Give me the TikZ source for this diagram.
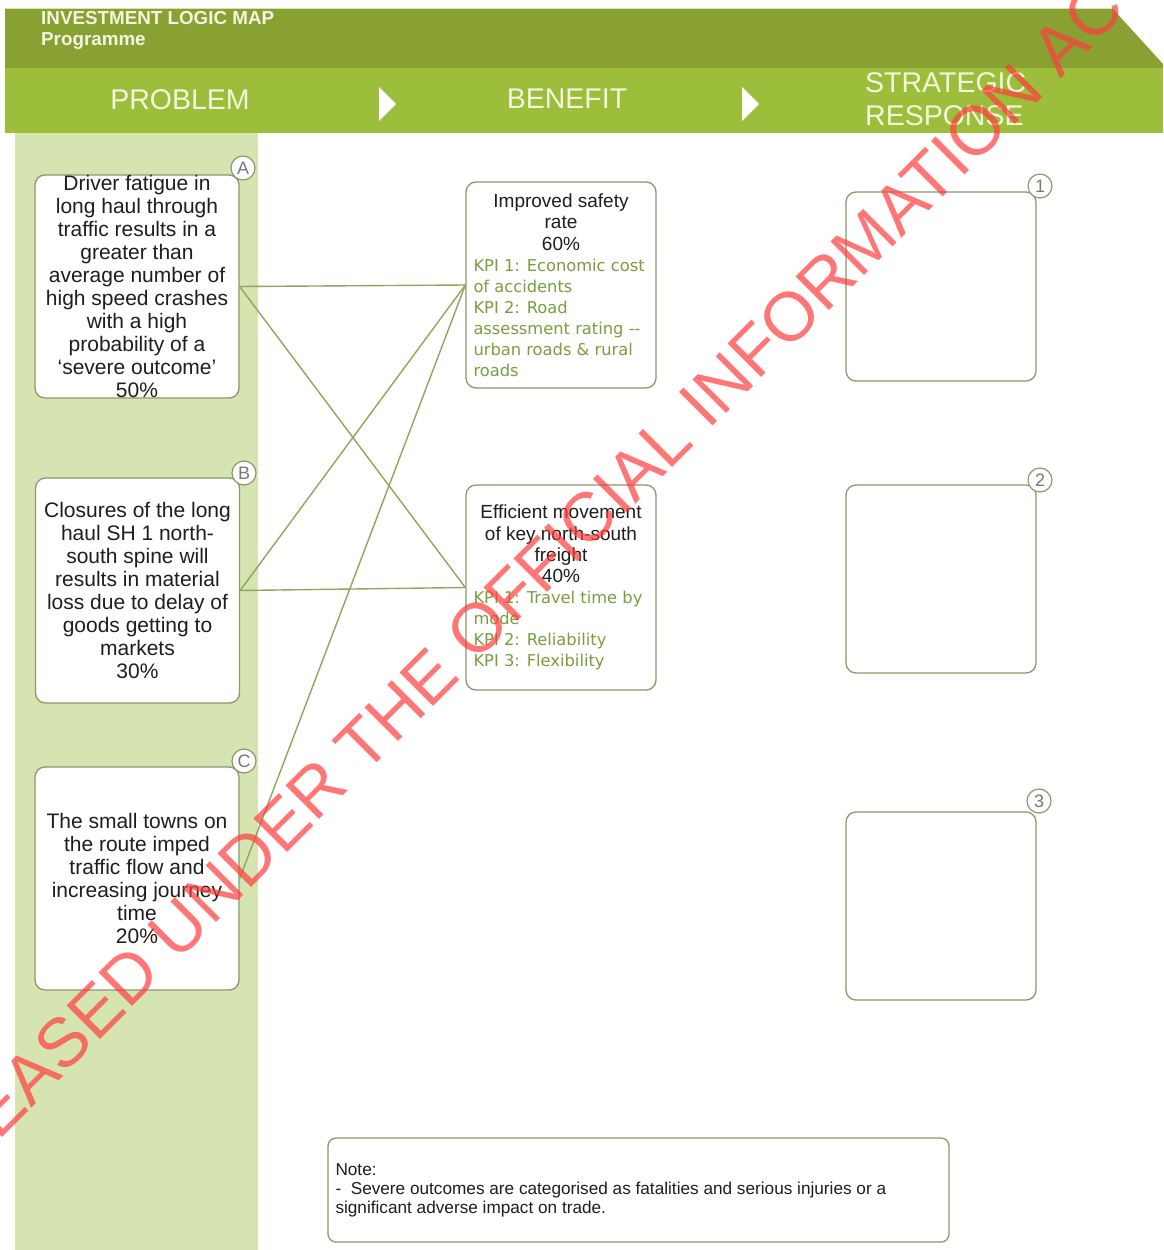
\documentclass[tikz,border=0pt]{standalone}
\usepackage{fontspec}
\setmainfont{Liberation Sans}
\newfontfamily\kpifont{DejaVu Sans}
\definecolor{darkband}{RGB}{137,161,50}
\definecolor{lightband}{RGB}{157,190,58}
\definecolor{palecol}{RGB}{213,228,176}
\definecolor{boxline}{RGB}{138,152,108}
\definecolor{linkgreen}{RGB}{140,168,92}
\definecolor{kpigreen}{RGB}{122,158,62}
\definecolor{textdark}{RGB}{30,30,30}
\definecolor{taggray}{RGB}{120,120,120}
\definecolor{headtext}{RGB}{242,246,222}
\definecolor{wmred}{RGB}{255,60,60}
\begin{document}
\begin{tikzpicture}[x=1pt,y=-1pt,
  probbox/.style={draw=boxline, line width=1.3pt, fill=white, rounded corners=10pt,
    minimum width=204pt, minimum height=223pt, inner sep=0pt, align=center,
    font=\fontsize{21}{23}\selectfont, text=textdark},
  benbox/.style={draw=boxline, line width=1.3pt, fill=white, rounded corners=10pt,
    minimum width=190pt, minimum height=206pt, inner sep=0pt},
  srbox/.style={draw=boxline, line width=1.3pt, fill=white, rounded corners=10pt,
    minimum width=190pt, minimum height=189pt, inner sep=0pt},
  tag/.style={circle, draw=boxline, fill=white, line width=1.2pt, minimum size=24pt,
    inner sep=0pt, font=\fontsize{18}{18}\selectfont, text=taggray},
  link/.style={draw=linkgreen, line width=1.4pt},
  headarrow/.style={fill=white, draw=none},
  coltitle/.style={text=headtext, font=\fontsize{28.5}{30}\selectfont, inner sep=0pt}
]
\useasboundingbox (0,0) rectangle (1163,1250);
\fill[white] (0,0) rectangle (1163,1250);
% header bands
\fill[darkband] (5,8) -- (1112,8) -- (1163,64) -- (1163,68) -- (5,68) -- cycle;
\draw[palecol, line width=1pt] (5,8.5) -- (1112,8.5);
\fill[lightband] (5,68) rectangle (1163,133);
\fill[palecol] (15,133) rectangle (258,1250);
% header texts
\node[anchor=north west, text=headtext, inner sep=0pt, align=left,
  font=\fontsize{18.8}{21}\selectfont\bfseries] (title) at (41,11)
  {INVESTMENT LOGIC MAP\\Programme};
\node[coltitle] (hprob) at (180,100) {PROBLEM};
\node[coltitle] (hben) at (567,99) {BENEFIT};
\node[coltitle, anchor=west, align=left, font=\fontsize{28.5}{33}\selectfont] (hsr) at (865,99) {STRATEGIC\\RESPONSE};
\fill[headarrow] (379,87) -- (396,104) -- (379,121) -- cycle;
\fill[headarrow] (742,87) -- (759,104) -- (742,121) -- cycle;
% problem boxes
\node[probbox] (pa) at (137,286.5) {Driver fatigue in\\long haul through\\traffic results in a\\greater than\\average number of\\high speed crashes\\with a high\\probability of a\\`severe outcome'\\50\%};
\node[probbox, minimum height=225pt] (pb) at (137.5,590.5) {Closures of the long\\haul SH 1 north-\\south spine will\\results in material\\loss due to delay of\\goods getting to\\markets\\30\%};
\node[probbox] (pc) at (137,878.5) {The small towns on\\the route imped\\traffic flow and\\increasing journey\\time\\20\%};
\node[tag] (ta) at (243,168) {A};
\node[tag] (tb) at (244,473) {B};
\node[tag] (tc) at (244,761) {C};
% benefit boxes
\node[benbox] (b1) at (561,285) {\begin{minipage}{175pt}\fontsize{19}{21.3}\selectfont\color{textdark}\centering Improved safety\\rate\\60\%\par
\raggedright\kpifont\fontsize{16.3}{21}\selectfont\color{kpigreen}KPI 1: Economic cost\\of accidents\\KPI 2: Road\\assessment rating --\\urban roads \& rural\\roads\par\end{minipage}};
\node[benbox, minimum height=205pt] (b2) at (561,587.5) {\begin{minipage}{175pt}\fontsize{19}{21.3}\selectfont\color{textdark}\centering Efficient movement\\of key north-south\\freight\\40\%\par
\raggedright\kpifont\fontsize{16.3}{21}\selectfont\color{kpigreen}KPI 1: Travel time by\\mode\\KPI 2: Reliability\\KPI 3: Flexibility\par\end{minipage}};
% strategic response boxes
\node[srbox] (s1) at (941,286.5) {};
\node[srbox, minimum height=188pt] (s2) at (941,579) {};
\node[srbox, minimum height=188pt] (s3) at (941,906) {};
\node[tag] (t1) at (1040,186) {1};
\node[tag] (t2) at (1040,480) {2};
\node[tag] (t3) at (1039,801) {3};
% connectors
\draw[link] (pa.east) -- (b1.west);
\draw[link] (pa.east) -- (b2.west);
\draw[link] (pb.east) -- (b1.west);
\draw[link] (pb.east) -- (b2.west);
\draw[link] (pc.east) -- (b1.west);
% note
\node[draw=boxline, line width=1.3pt, fill=white, rounded corners=8pt, minimum width=621pt,
  minimum height=104pt, inner sep=0pt] (note) at (638.5,1190) {\begin{minipage}{606pt}\fontsize{17.2}{19}\selectfont\color{textdark}Note:\\-\ \ Severe outcomes are categorised as fatalities and serious injuries or a\\significant adverse impact on trade.\end{minipage}};
% watermark
\begin{scope}
\clip (0,0) rectangle (1163,1250);
\node[rotate=45, text=wmred, text opacity=0.7, inner sep=0pt, font=\fontsize{69}{69}\selectfont] (wm) at (514,592) {RELEASED UNDER THE OFFICIAL INFORMATION ACT};
\end{scope}
\end{tikzpicture}
\end{document}
